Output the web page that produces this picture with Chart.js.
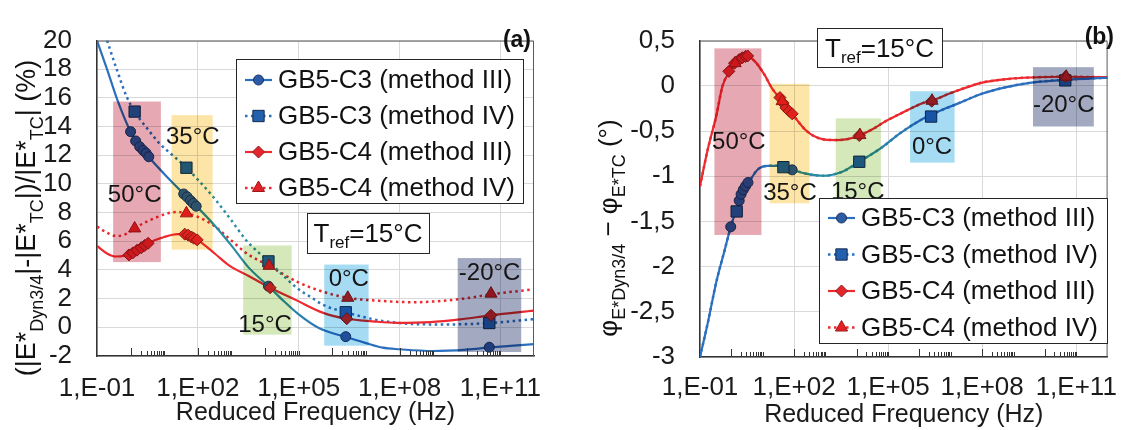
<!DOCTYPE html>
<html>
<head>
<meta charset="utf-8">
<title>GB5 master curves</title>
<script src="https://cdn.jsdelivr.net/npm/chart.js@4.4.1/dist/chart.umd.min.js"></script>
<style>
  body { margin: 0; background: #fff; }
  .row { display: flex; width: 1133px; height: 430px; }
  canvas { display: block; }
</style>
</head>
<body>
<div class="row">
  <canvas id="magChart" width="560" height="430"></canvas>
  <canvas id="phaseChart" width="573" height="430"></canvas>
</div>
<script>
const FONT = '"Liberation Sans", Arial, Helvetica, sans-serif';

// reduced frequency axis
const freqTicks = [1e-1, 1e2, 1e5, 1e8, 1e11];
const freqTickLabels = ['1,E-01', '1,E+02', '1,E+05', '1,E+08', '1,E+11'];
const minorTickDecades = [0, 2, 4, 6, 8, 10];
const tempLabels = ['50°C', '35°C', '15°C', '0°C', '-20°C'];

// (a) norm deviation, %  -- x values are log10(f)
const magC3m3CurveLogF = [-1, -0.7, -0.4, 0, 0.5, 1.0, 1.5, 2.0, 2.5, 3.0, 3.5, 4.1, 4.5, 5.0, 5.6, 6.4, 7.0, 7.5, 8.0, 9.0, 10.0, 10.7, 11.4, 12];
const magC3m3Curve     = [20, 18.0, 15.9, 13.65, 12.0, 10.7, 9.5, 8.35, 7.1, 5.7, 4.2, 2.87, 1.95, 0.9, -0.05, -0.68, -1.1, -1.42, -1.53, -1.65, -1.55, -1.4, -1.28, -1.17];
const magC3m3PtsLogF   = [0.0, 0.15, 0.27, 0.37, 0.46, 0.54, 1.58, 1.68, 1.78, 1.86, 1.95, 4.10, 6.40, 10.67];
const magC3m3Pts       = [13.65, 13.0, 12.6, 12.35, 12.15, 11.9, 9.3, 9.1, 8.85, 8.65, 8.45, 2.87, -0.65, -1.39];

const magC3m4CurveLogF = [-0.7, -0.4, -0.12, 0.12, 0.5, 0.87, 1.3, 1.66, 2.0, 2.46, 3.0, 3.45, 4.1, 4.5, 4.94, 5.4, 5.73, 6.4, 7.0, 7.42, 8.0, 8.5, 9.5, 10.67, 11.3, 12];
const magC3m4Curve     = [20, 17.9, 16.1, 15.05, 13.85, 12.8, 11.9, 11.14, 10.3, 9.09, 7.45, 6.04, 4.6, 3.7, 2.76, 2.05, 1.56, 1.05, 0.68, 0.47, 0.3, 0.22, 0.2, 0.3, 0.42, 0.57];
const magC3m4PtsLogF   = [0.12, 1.66, 4.10, 6.40, 10.67];
const magC3m4Pts       = [15.05, 11.13, 4.6, 1.05, 0.3];

const magC4m3CurveLogF = [-1, -0.7, -0.45, -0.2, 0.1, 0.52, 1.0, 1.4, 1.7, 2.0, 2.5, 2.95, 3.5, 4.15, 4.94, 5.73, 6.43, 7.2, 7.92, 8.91, 9.8, 10.72, 12];
const magC4m3Curve     = [5.68, 5.15, 4.94, 4.98, 5.2, 5.86, 6.3, 6.5, 6.43, 6.08, 5.15, 4.29, 3.6, 2.76, 1.88, 1.01, 0.6, 0.42, 0.31, 0.36, 0.55, 0.84, 1.16];
const magC4m3PtsLogF   = [-0.05, 0.07, 0.19, 0.32, 0.42, 0.52, 1.61, 1.71, 1.81, 1.88, 1.98, 4.15, 6.43, 10.72];
const magC4m3Pts       = [5.05, 5.2, 5.38, 5.55, 5.71, 5.86, 6.5, 6.43, 6.3, 6.21, 6.1, 2.76, 0.6, 0.84];

const magC4m4CurveLogF = [-1, -0.7, -0.42, -0.1, 0.12, 0.5, 0.8, 1.1, 1.37, 1.66, 2.0, 2.46, 3.0, 3.45, 4.12, 4.94, 5.7, 6.46, 7.4, 8.4, 9.0, 9.9, 10.72, 12];
const magC4m4Curve     = [7.02, 6.6, 6.36, 6.55, 6.9, 7.4, 7.7, 7.95, 8.05, 7.95, 7.7, 7.12, 6.05, 5.16, 4.29, 3.19, 2.5, 2.06, 1.85, 1.75, 1.8, 2.0, 2.3, 2.65];
const magC4m4PtsLogF   = [0.12, 1.66, 4.12, 6.46, 10.72];
const magC4m4Pts       = [6.9, 7.95, 4.29, 2.06, 2.35];

const magBoxLogF   = [[-0.52, 0.90], [1.22, 2.44], [3.35, 4.79], [5.76, 7.08], [9.73, 11.62]];
const magBoxVal    = [[4.55, 15.75], [5.42, 14.8], [-0.51, 5.71], [-1.28, 4.38], [-1.72, 4.83]];
const magLabelLogF = [0.12, 1.85, 4.0, 6.49, 10.68];
const magLabelVal  = [9.2, 13.26, 0.16, 3.34, 3.74];

// (b) phase angle deviation, degrees
const phaseC3m3CurveLogF = [-1, -0.75, -0.48, -0.2, -0.02, 0.2, 0.4, 0.55, 0.86, 1.17, 1.5, 1.94, 2.5, 2.92, 3.54, 4.08, 4.77, 5.4, 6.11, 6.5, 7.2, 7.97, 8.7, 9.52, 10.65, 12];
const phaseC3m3Curve     = [-3.0, -2.62, -2.17, -1.8, -1.56, -1.33, -1.16, -1.07, -0.92, -0.885, -0.885, -0.93, -0.98, -0.995, -0.95, -0.84, -0.69, -0.52, -0.365, -0.3, -0.2, -0.09, -0.02, 0.033, 0.067, 0.09];
const phaseC3m3PtsLogF   = [-0.02, 0.25, 0.31, 0.38, 0.45, 0.53, 1.94];
const phaseC3m3Pts       = [-1.56, -1.27, -1.2, -1.15, -1.11, -1.07, -0.93];

const phaseC3m4PtsLogF = [0.17, 1.66, 4.08, 6.37, 10.65];
const phaseC3m4Pts     = [-1.39, -0.9, -0.84, -0.34, 0.06];

const phaseC4m3CurveLogF = [-1, -0.75, -0.48, -0.28, -0.05, 0.2, 0.45, 0.75, 1.06, 1.3, 1.6, 1.94, 2.4, 2.9, 3.33, 3.7, 4.08, 4.5, 4.98, 5.5, 6.11, 6.39, 7.0, 7.97, 8.8, 9.52, 10.65, 12];
const phaseC4m3Curve     = [-1.11, -0.7, -0.33, 0.0, 0.16, 0.28, 0.33, 0.27, 0.12, -0.03, -0.16, -0.31, -0.5, -0.59, -0.6, -0.59, -0.55, -0.48, -0.38, -0.29, -0.19, -0.165, -0.08, 0.033, 0.075, 0.092, 0.1, 0.095];
const phaseC4m3PtsLogF   = [-0.08, 0.1, 0.25, 0.35, 0.45, 0.52, 1.55, 1.65, 1.74, 1.84, 1.94, 4.08, 6.39, 10.66];
const phaseC4m3Pts       = [0.16, 0.25, 0.29, 0.31, 0.325, 0.33, -0.13, -0.19, -0.245, -0.28, -0.31, -0.55, -0.17, 0.1];

const phaseC4m4PtsLogF = [0.12, 1.62, 4.1, 6.4, 10.68];
const phaseC4m4Pts     = [0.25, -0.17, -0.545, -0.165, 0.1];

const phaseBoxLogF   = [[-0.54, 0.96], [1.22, 2.49], [3.33, 4.77], [5.70, 7.12], [9.62, 11.56]];
const phaseBoxVal    = [[-1.65, 0.414], [-1.30, 0.022], [-1.28, -0.36], [-0.85, -0.06], [-0.45, 0.206]];
const phaseLabelLogF = [0.24, 1.87, 4.03, 6.40, 10.6];
const phaseLabelVal  = [-0.625, -1.19, -1.18, -0.677, -0.22];

// windows are multiplied onto what lies below them
const BOX_COLORS = ['#E6A9B3', '#FCE5A6', '#D4E8BA', '#A6DCF3', '#A2A9C0'];

// the C3 curves shift to teal between the 35 and 15 °C windows
const BLUE = '#2B6FBE', TEAL = '#2A8CA4';
const blueShadeLogF = [-1, 1.0, 2.2, 4.4, 6.2, 12];
const blueShadeColors = [BLUE, BLUE, TEAL, TEAL, BLUE, BLUE];

const STYLE = {
  c3m3: { label: 'GB5-C3 (method III)', color: BLUE, shade: true, dash: [], style: 'circle', r: 5, fill: '#2D5CA6', edge: '#1B3260', order: 5 },
  c3m4: { label: 'GB5-C3 (method IV)', color: BLUE, shade: true, dash: [2.5, 3.5], style: 'rect', r: 8, fill: '#2361AE', edge: '#142A4C', order: 4 },
  c4m3: { label: 'GB5-C4 (method III)', color: '#EC2A2F', dash: [], style: 'rectRot', r: 6, fill: '#E3262C', edge: '#8E1A1E', order: 3 },
  c4m4: { label: 'GB5-C4 (method IV)', color: '#EC2A2F', dash: [2.5, 3.5], style: 'triangle', r: 7, fill: '#E42026', edge: '#9A1A1A', order: 2 },
};
const LEGEND_ORDER = [STYLE.c3m3, STYLE.c3m4, STYLE.c4m3, STYLE.c4m4];

const toPts = (lf, v) => lf.map((e, i) => ({ x: Math.pow(10, e), y: v[i] }));

function blueShade(chart) {
  const { chartArea: a, scales } = chart;
  if (!a || !scales.x) return BLUE;
  const g = chart.ctx.createLinearGradient(a.left, 0, a.right, 0);
  const w = a.right - a.left;
  blueShadeLogF.forEach((lf, i) => {
    const t = (scales.x.getPixelForValue(Math.pow(10, lf)) - a.left) / w;
    g.addColorStop(Math.min(1, Math.max(0, t)), blueShadeColors[i]);
  });
  return g;
}

function lineSet(st, lf, v) {
  return {
    data: toPts(lf, v),
    borderColor: st.shade ? c => blueShade(c.chart) : st.color,
    borderWidth: st.dash.length ? 2.5 : 2.2,
    borderDash: st.dash, pointRadius: 0, fill: false,
    cubicInterpolationMode: 'monotone', order: st.dash.length ? 7 : 6,
  };
}
function markSet(st, lf, v) {
  return {
    data: toPts(lf, v), showLine: false, pointStyle: st.style, pointRadius: st.r,
    pointBackgroundColor: st.fill, pointBorderColor: st.edge, pointBorderWidth: 1, order: st.order,
  };
}

function richWidth(ctx, parts, main, sub) {
  let w = 0;
  for (const p of parts) { ctx.font = p.s ? sub : main; w += ctx.measureText(p.t).width; }
  return w;
}
function drawRich(ctx, parts, x, y, main, sub, drop) {
  let cx = x;
  for (const p of parts) {
    ctx.font = p.s ? sub : main;
    ctx.fillText(p.t, cx, p.s ? y + drop : y);
    cx += ctx.measureText(p.t).width;
  }
}

function decorations(cfg) {
  return {
    id: 'deco',
    afterDraw(chart) {
      const { ctx, chartArea: a, scales: { x, y } } = chart;
      const px = lf => x.getPixelForValue(Math.pow(10, lf));
      ctx.save();

      // temperature windows over the curves
      ctx.globalCompositeOperation = 'multiply';
      cfg.boxLogF.forEach((r, i) => {
        const x0 = px(r[0]), x1 = px(r[1]);
        const y0 = y.getPixelForValue(cfg.boxVal[i][1]), y1 = y.getPixelForValue(cfg.boxVal[i][0]);
        ctx.fillStyle = BOX_COLORS[i];
        ctx.fillRect(x0, y0, x1 - x0, y1 - y0);
      });
      ctx.globalCompositeOperation = 'source-over';
      ctx.fillStyle = '#151515';
      ctx.font = '24px ' + FONT;
      ctx.textAlign = 'center';
      ctx.textBaseline = 'middle';
      tempLabels.forEach((t, i) => ctx.fillText(t, px(cfg.labelLogF[i]), y.getPixelForValue(cfg.labelVal[i])));

      // minor ticks along the bottom axis
      ctx.strokeStyle = '#333';
      ctx.lineWidth = 1;
      ctx.beginPath();
      minorTickDecades.forEach(d => {
        for (let k = 1; k <= 10; k++) {
          const xx = Math.round(x.getPixelForValue(k * Math.pow(10, d))) + 0.5;
          ctx.moveTo(xx, a.bottom);
          ctx.lineTo(xx, a.bottom - (k === 1 ? 8 : 5));
        }
      });
      ctx.stroke();

      // top and right frame
      ctx.strokeStyle = '#5a5a5a';
      ctx.beginPath();
      ctx.moveTo(a.left, a.top + 0.5);
      ctx.lineTo(a.right - 0.5, a.top + 0.5);
      ctx.lineTo(a.right - 0.5, a.bottom);
      ctx.stroke();

      // legend
      const L = cfg.legend;
      ctx.fillStyle = '#fff';
      ctx.fillRect(L.x, L.y, L.w, L.h);
      ctx.strokeStyle = '#262626';
      ctx.strokeRect(L.x + 0.5, L.y + 0.5, L.w, L.h);
      LEGEND_ORDER.forEach((s, i) => {
        const yy = L.y + L.first + i * L.gap;
        ctx.save();
        ctx.strokeStyle = s.color;
        ctx.lineWidth = s.dash.length ? 2.5 : 2.2;
        ctx.setLineDash(s.dash);
        ctx.beginPath();
        ctx.moveTo(L.x + 9, yy);
        ctx.lineTo(L.x + 36, yy);
        ctx.stroke();
        ctx.restore();
        ctx.fillStyle = s.fill;
        ctx.strokeStyle = s.edge;
        ctx.lineWidth = 1;
        Chart.helpers.drawPoint(ctx, { pointStyle: s.style, radius: s.r, rotation: 0, borderWidth: 1 }, L.x + 22.5, yy);
        ctx.fillStyle = '#111';
        ctx.font = '26px ' + FONT;
        ctx.textAlign = 'left';
        ctx.textBaseline = 'middle';
        ctx.fillText(s.label, L.x + 42, yy + 1);
      });

      // reference temperature box
      const T = cfg.tref;
      ctx.fillStyle = '#fff';
      ctx.fillRect(T.x, T.y, T.w, T.h);
      ctx.strokeStyle = '#262626';
      ctx.strokeRect(T.x + 0.5, T.y + 0.5, T.w, T.h);
      const tParts = [{ t: 'T' }, { t: 'ref', s: 1 }, { t: '=15°C' }];
      const tMain = '26px ' + FONT, tSub = '17px ' + FONT;
      const tw = richWidth(ctx, tParts, tMain, tSub);
      ctx.fillStyle = '#111';
      ctx.textBaseline = 'alphabetic';
      drawRich(ctx, tParts, T.x + (T.w - tw) / 2, T.y + T.h / 2 + 9, tMain, tSub, 6);

      // panel letter
      ctx.font = 'bold 23px ' + FONT;
      ctx.textAlign = 'right';
      ctx.textBaseline = 'middle';
      ctx.fillText(cfg.letter, cfg.letterX, cfg.letterY);

      // y axis title with subscripts
      const yt = cfg.yTitle;
      const main = yt.size + 'px ' + FONT, sub = yt.sub + 'px ' + FONT;
      const w = richWidth(ctx, yt.parts, main, sub);
      ctx.translate(yt.x, yt.y);
      ctx.rotate(-Math.PI / 2);
      ctx.textAlign = 'left';
      ctx.textBaseline = 'alphabetic';
      drawRich(ctx, yt.parts, -w / 2, yt.size * 0.36, main, sub, yt.drop);
      ctx.restore();
    }
  };
}

function axisX(height, tickPad, titlePad) {
  return {
    type: 'logarithmic', min: 1e-1, max: 1e12,
    afterBuildTicks: s => { s.ticks = freqTicks.map(v => ({ value: v })); },
    afterFit: s => { s.height = height; },
    ticks: {
      autoSkip: false, maxRotation: 0, minRotation: 0, padding: tickPad,
      font: { size: 26 }, color: '#1a1a1a',
      callback: (v, i) => freqTickLabels[i],
    },
    grid: { color: '#d9d9d9', drawTicks: false },
    border: { color: '#333', width: 1.5 },
    title: { display: true, text: 'Reduced Frequency (Hz)', font: { size: 25 }, color: '#1a1a1a', padding: { top: 0, bottom: titlePad } },
  };
}
function axisY(width, min, max, step) {
  return {
    min, max,
    afterFit: s => { s.width = width; },
    ticks: { stepSize: step, autoSkip: false, padding: 25, font: { size: 26 }, color: '#1a1a1a', callback: v => String(v).replace('.', ',') },
    grid: { color: '#d9d9d9', drawTicks: false },
    border: { color: '#333', width: 1.5 },
  };
}

Chart.defaults.font.family = FONT;

new Chart(document.getElementById('magChart'), {
  type: 'line',
  data: {
    datasets: [
      lineSet(STYLE.c3m3, magC3m3CurveLogF, magC3m3Curve),
      lineSet(STYLE.c3m4, magC3m4CurveLogF, magC3m4Curve),
      lineSet(STYLE.c4m3, magC4m3CurveLogF, magC4m3Curve),
      lineSet(STYLE.c4m4, magC4m4CurveLogF, magC4m4Curve),
      markSet(STYLE.c3m3, magC3m3PtsLogF, magC3m3Pts),
      markSet(STYLE.c3m4, magC3m4PtsLogF, magC3m4Pts),
      markSet(STYLE.c4m3, magC4m3PtsLogF, magC4m3Pts),
      markSet(STYLE.c4m4, magC4m4PtsLogF, magC4m4Pts),
    ]
  },
  options: {
    responsive: false, animation: false,
    layout: { padding: { top: 20, right: 26, left: 0, bottom: 0 } },
    plugins: { legend: { display: false }, tooltip: { enabled: false } },
    scales: { x: axisX(74, 17, 2), y: axisY(97, -2, 20, 2) },
  },
  plugins: [decorations({
    boxLogF: magBoxLogF, boxVal: magBoxVal, labelLogF: magLabelLogF, labelVal: magLabelVal,
    legend: { x: 236, y: 59, w: 287, h: 144, first: 21, gap: 36 },
    tref: { x: 307, y: 213, w: 122, h: 40 },
    letter: '(a)', letterX: 531, letterY: 41,
    yTitle: {
      x: 25, y: 218, size: 27, sub: 18, drop: 8,
      parts: [{ t: '(|E*' }, { t: 'Dyn3/4', s: 1 }, { t: '|-|E*' }, { t: 'TC', s: 1 }, { t: '|)/|E*' }, { t: 'TC', s: 1 }, { t: '| (%)' }],
    },
  })],
});

new Chart(document.getElementById('phaseChart'), {
  type: 'line',
  data: {
    datasets: [
      lineSet(STYLE.c3m3, phaseC3m3CurveLogF, phaseC3m3Curve),
      lineSet(STYLE.c3m4, phaseC3m3CurveLogF, phaseC3m3Curve),
      lineSet(STYLE.c4m3, phaseC4m3CurveLogF, phaseC4m3Curve),
      lineSet(STYLE.c4m4, phaseC4m3CurveLogF, phaseC4m3Curve),
      markSet(STYLE.c3m3, phaseC3m3PtsLogF, phaseC3m3Pts),
      markSet(STYLE.c3m4, phaseC3m4PtsLogF, phaseC3m4Pts),
      markSet(STYLE.c4m3, phaseC4m3PtsLogF, phaseC4m3Pts),
      markSet(STYLE.c4m4, phaseC4m4PtsLogF, phaseC4m4Pts),
    ]
  },
  options: {
    responsive: false, animation: false,
    layout: { padding: { top: 20, right: 15, left: 0, bottom: 0 } },
    plugins: { legend: { display: false }, tooltip: { enabled: false } },
    scales: { x: axisX(73, 15, 0), y: axisY(140, -3, 0.5, 0.5) },
  },
  plugins: [decorations({
    boxLogF: phaseBoxLogF, boxVal: phaseBoxVal, labelLogF: phaseLabelLogF, labelVal: phaseLabelVal,
    legend: { x: 259, y: 198, w: 288, h: 145, first: 20, gap: 36.5 },
    tref: { x: 257, y: 28, w: 125, h: 39 },
    letter: '(b)', letterX: 554, letterY: 38,
    yTitle: {
      x: 48, y: 228, size: 26, sub: 18, drop: 8,
      parts: [{ t: 'φ' }, { t: 'E*Dyn3/4', s: 1 }, { t: ' − φ' }, { t: 'E*TC', s: 1 }, { t: ' (°)' }],
    },
  })],
});
</script>
</body>
</html>
